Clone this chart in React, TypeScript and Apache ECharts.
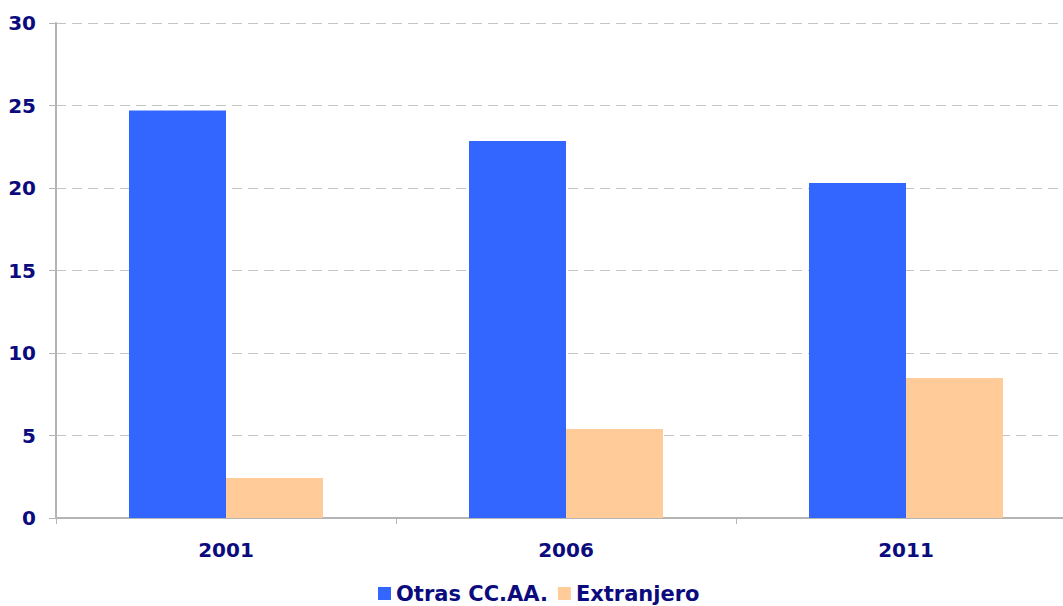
import React, { useEffect, useRef } from "react";
import * as echarts from "echarts";

const categories = ["2001", "2006", "2011"];
const otrasCCAA = [24.7, 22.85, 20.3];
const extranjero = [2.42, 5.4, 8.48];
const seriesNames = ["Otras CC.AA.", "Extranjero"];

const FONT = "DejaVu Sans";
const NAVY = "#0b0b7d";

export default function App() {
  const ref = useRef<HTMLDivElement>(null);
  useEffect(() => {
    const chart = echarts.init(ref.current!, undefined, { renderer: "svg" });
    chart.setOption({
      animation: false,
      backgroundColor: "#ffffff",
      grid: { left: 56, right: -13, top: 23, bottom: 88, outerBoundsMode: "none", containLabel: false },
      legend: {
        bottom: -3,
        left: 373,
        itemWidth: 13,
        itemHeight: 13,
        itemGap: 10,
        icon: "rect",
        textStyle: { fontFamily: FONT, fontWeight: "bold", fontSize: 21, color: NAVY },
        data: seriesNames,
      },
      xAxis: {
        type: "category",
        data: categories,
        axisLine: { lineStyle: { color: "#b4b4b4", width: 2 } },
        axisTick: { show: true, length: 6, lineStyle: { color: "#b4b4b4", width: 1 } },
        axisLabel: { fontFamily: FONT, fontWeight: "bold", fontSize: 20, color: NAVY, margin: 22 },
        splitLine: { show: false },
      },
      yAxis: {
        type: "value",
        min: 0,
        max: 30,
        interval: 5,
        axisLine: { show: true, lineStyle: { color: "#b4b4b4", width: 2 } },
        axisTick: { show: true, length: 7, lineStyle: { color: "#b4b4b4", width: 1 } },
        axisLabel: { fontFamily: FONT, fontWeight: "bold", fontSize: 20, color: NAVY, margin: 20 },
        splitLine: { show: true, lineStyle: { color: "#c4c4c4", type: [10, 6], width: 1 } },
      },
      series: [
        {
          name: seriesNames[0],
          type: "bar",
          data: otrasCCAA,
          barWidth: 97,
          barGap: "0%",
          itemStyle: { color: "#3366ff" },
        },
        {
          name: seriesNames[1],
          type: "bar",
          data: extranjero,
          barWidth: 97,
          barGap: "0%",
          itemStyle: { color: "#ffcc99" },
        },
      ],
    });
    return () => chart.dispose();
  }, []);
  return (
    <div
      ref={ref}
      style={{ position: "absolute", left: 0, top: 0, width: 1063, height: 606 }}
    />
  );
}
